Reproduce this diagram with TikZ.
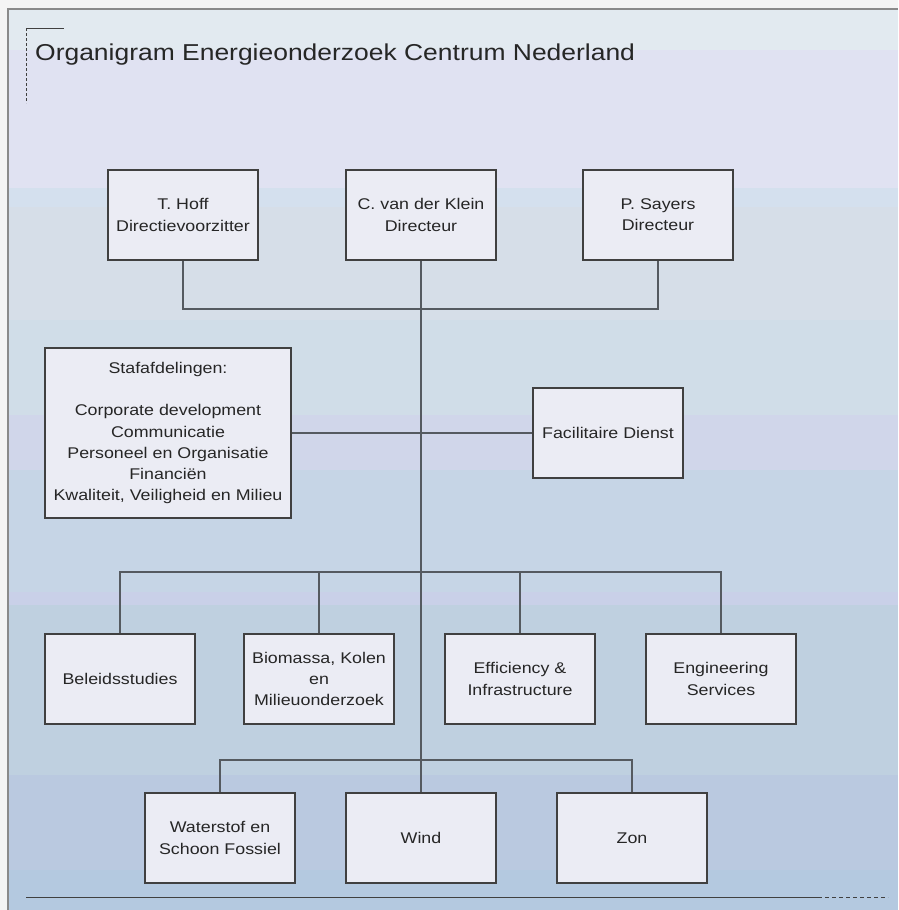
\documentclass[tikz,border=0pt]{standalone}
\usepackage{fontspec}
\setmainfont[FakeStretch=1.15]{Liberation Sans}
\definecolor{outerbg}{HTML}{F4F4F4}
\definecolor{frame}{HTML}{8A8A8A}
\definecolor{bA}{HTML}{E2EAF0}
\definecolor{bB}{HTML}{E0E2F2}
\definecolor{bC}{HTML}{D4E0EE}
\definecolor{bD}{HTML}{D6DEE8}
\definecolor{bE}{HTML}{D0DDE8}
\definecolor{bF}{HTML}{D0D6EA}
\definecolor{bG}{HTML}{C6D5E6}
\definecolor{bH}{HTML}{C9D0E8}
\definecolor{bI}{HTML}{BFD0E0}
\definecolor{bJ}{HTML}{BAC9E0}
\definecolor{bK}{HTML}{B4C9E0}
\definecolor{boxfill}{HTML}{EBECF4}
\definecolor{boxline}{HTML}{404040}
\definecolor{conn}{HTML}{555A60}
\definecolor{txt}{HTML}{262626}
\tikzset{
  orgbox/.style={draw=boxline, fill=boxfill, line width=1.1pt, inner sep=0pt,
    minimum width=150pt, minimum height=90pt, align=center, text=txt,
    font=\fontsize{15.5}{21.3}\selectfont},
  link/.style={draw=conn, line width=1.3pt}
}
\begin{document}
\begin{tikzpicture}[x=1pt,y=-1pt]
\useasboundingbox (0,0) rectangle (898,910);
\fill[outerbg] (0,0) rectangle (898,910);
% background bands
\fill[bA] (8,9) rectangle (898,50);
\fill[bB] (8,50) rectangle (898,188);
\fill[bC] (8,188) rectangle (898,207);
\fill[bD] (8,207) rectangle (898,320);
\fill[bE] (8,320) rectangle (898,415);
\fill[bF] (8,415) rectangle (898,470);
\fill[bG] (8,470) rectangle (898,592);
\fill[bH] (8,592) rectangle (898,605);
\fill[bI] (8,605) rectangle (898,775);
\fill[bJ] (8,775) rectangle (898,870);
\fill[bK] (8,870) rectangle (898,910);
\draw[frame, line width=1.6pt] (8,910) -- (8,9) -- (898,9);
% title
\coordinate (tl) at (26,28);
\coordinate (tr) at (64,28);
\coordinate (tb) at (26,103);
\draw[boxline, line width=0.9pt] (tl) -- (tr);
\draw[boxline, line width=0.9pt, dashed, dash pattern=on 3pt off 2pt] (tl) -- (tb);
\node[anchor=base west, text=txt, font=\fontsize{23}{28}\selectfont, inner sep=0pt] (title) at (35,60) {Organigram Energieonderzoek Centrum Nederland};
% bottom line
\coordinate (bl) at (26,897);
\coordinate (bm) at (818,897);
\coordinate (br) at (888,897);
\draw[boxline, line width=0.9pt] (bl) -- (bm);
\draw[boxline, line width=0.9pt, dashed, dash pattern=on 4pt off 3pt] (bm) -- (br);
% boxes
\node[orgbox] (hoff) at (183,215) {T. Hoff\\Directievoorzitter};
\node[orgbox] (klein) at (421,215) {C. van der Klein\\Directeur};
\node[orgbox] (sayers) at (658,215) {P. Sayers\\Directeur};
\node[orgbox, minimum width=246pt, minimum height=170pt] (staf) at (168,433)
  {Stafafdelingen:\\[21.3pt]Corporate development\\Communicatie\\Personeel en Organisatie\\Financiën\\Kwaliteit, Veiligheid en Milieu};
\node[orgbox] (fac) at (608,433) {Facilitaire Dienst};
\node[orgbox] (bel) at (120,679) {Beleidsstudies};
\node[orgbox] (bio) at (319,679) {Biomassa, Kolen\\en\\Milieuonderzoek};
\node[orgbox] (eff) at (520,679) {Efficiency \&\\Infrastructure};
\node[orgbox] (eng) at (721,679) {Engineering\\Services};
\node[orgbox] (water) at (220,838) {Waterstof en\\Schoon Fossiel};
\node[orgbox] (wind) at (421,838) {Wind};
\node[orgbox] (zon) at (632,838) {Zon};
% connectors
\coordinate (j1) at (421,309);
\coordinate (j2) at (421,572);
\coordinate (j3) at (421,760);
\draw[link] (hoff.south) |- (j1) -| (sayers.south);
\draw[link] (klein.south) -- (wind.north);
\draw[link] (staf.east) -- (fac.west);
\draw[link] (bel.north) |- (j2) -| (eng.north);
\draw[link] (bio.north) -- (bio.north |- j2);
\draw[link] (eff.north) -- (eff.north |- j2);
\draw[link] (water.north) |- (j3) -| (zon.north);
\end{tikzpicture}
\end{document}
